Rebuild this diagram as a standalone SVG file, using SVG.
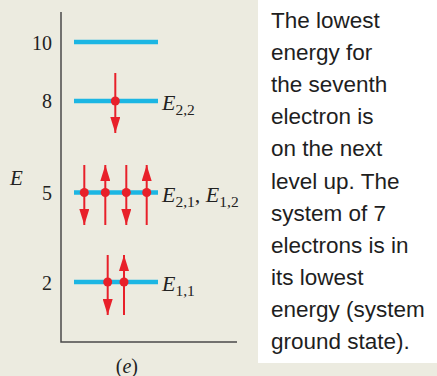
<svg xmlns="http://www.w3.org/2000/svg" width="437" height="376" viewBox="0 0 437 376">
<style>
.lvl{stroke:#1cb6e3;stroke-width:4.5;fill:none}
.e{stroke:#e8202a;stroke-width:2;marker-end:url(#ah)}
.dot{fill:#e8202a}
.num{font-family:"Liberation Serif",serif;font-size:20px;fill:#222;text-anchor:end}
.lab{font-family:"Liberation Serif",serif;font-size:22px;fill:#222;font-style:italic}
.sub{font-family:"Liberation Serif",serif;font-size:15.5px;fill:#222;font-style:normal}
.cm{font-style:normal}
.txt{font-family:"Liberation Sans",Arial,sans-serif;font-size:22.5px;fill:#1e1e1e}
</style>
<defs>
<marker id="ah" markerUnits="userSpaceOnUse" markerWidth="16" markerHeight="10" viewBox="0 0 16 10" refX="16" refY="5" orient="auto">
<path d="M0,0 L16,5 L0,10 z" fill="#e8202a"/>
</marker>
</defs>
<rect width="437" height="376" fill="#ecebe0"/>
<rect x="258" y="0" width="179" height="363" fill="#ffffff"/>
<g id="axes" stroke="#4a4a4a" stroke-width="1.5" fill="none">
<path d="M61,12 V342 H237"/>
</g>
<text class="lab" x="10" y="185" style="font-size:21px">E</text>
<text class="num" x="52" y="50">10</text>
<text class="num" x="52" y="108">8</text>
<text class="num" x="52" y="200">5</text>
<text class="num" x="52" y="290">2</text>
<g id="level10">
<line class="lvl" x1="74" y1="42" x2="158" y2="42"/>
</g>
<g id="level8">
<line class="lvl" x1="74" y1="101" x2="158" y2="101"/>
<line class="e" x1="115.3" y1="73" x2="115.3" y2="133"/>
<circle class="dot" cx="115.3" cy="101" r="4.5"/>
<text class="lab" x="162" y="109.5">E<tspan class="sub" dy="5">2,2</tspan></text>
</g>
<g id="level5">
<line class="lvl" x1="74" y1="192.5" x2="158" y2="192.5"/>
<line class="e" x1="84.3" y1="165" x2="84.3" y2="225"/>
<line class="e" x1="105.3" y1="225" x2="105.3" y2="165"/>
<line class="e" x1="126.3" y1="165" x2="126.3" y2="225"/>
<line class="e" x1="146.7" y1="225" x2="146.7" y2="165"/>
<circle class="dot" cx="84.3" cy="192.5" r="4.5"/>
<circle class="dot" cx="105.3" cy="192.5" r="4.5"/>
<circle class="dot" cx="126.3" cy="192.5" r="4.5"/>
<circle class="dot" cx="146.7" cy="192.5" r="4.5"/>
<text class="lab" x="162" y="201.5">E<tspan class="sub" dy="5">2,1</tspan><tspan class="cm" dy="-5">, </tspan><tspan>E</tspan><tspan class="sub" dy="5">1,2</tspan></text>
</g>
<g id="level2">
<line class="lvl" x1="74" y1="282" x2="158" y2="282"/>
<line class="e" x1="107.7" y1="255" x2="107.7" y2="315"/>
<line class="e" x1="124" y1="315" x2="124" y2="255"/>
<circle class="dot" cx="107.7" cy="282" r="4.5"/>
<circle class="dot" cx="124" cy="282" r="4.5"/>
<text class="lab" x="162" y="290.5">E<tspan class="sub" dy="5">1,1</tspan></text>
</g>
<text class="num" x="138" y="373">(<tspan font-style="italic">e</tspan>)</text>
<g id="caption">
<text class="txt" x="271" y="28">The lowest</text>
<text class="txt" x="271" y="60">energy for</text>
<text class="txt" x="271" y="92.2">the seventh</text>
<text class="txt" x="271" y="124.3">electron is</text>
<text class="txt" x="271" y="156.4">on the next</text>
<text class="txt" x="271" y="188.5">level up. The</text>
<text class="txt" x="271" y="220.6">system of 7</text>
<text class="txt" x="271" y="252.7">electrons is in</text>
<text class="txt" x="271" y="284.8">its lowest</text>
<text class="txt" x="271" y="316.9">energy (system</text>
<text class="txt" x="271" y="349">ground state).</text>
</g>
</svg>
